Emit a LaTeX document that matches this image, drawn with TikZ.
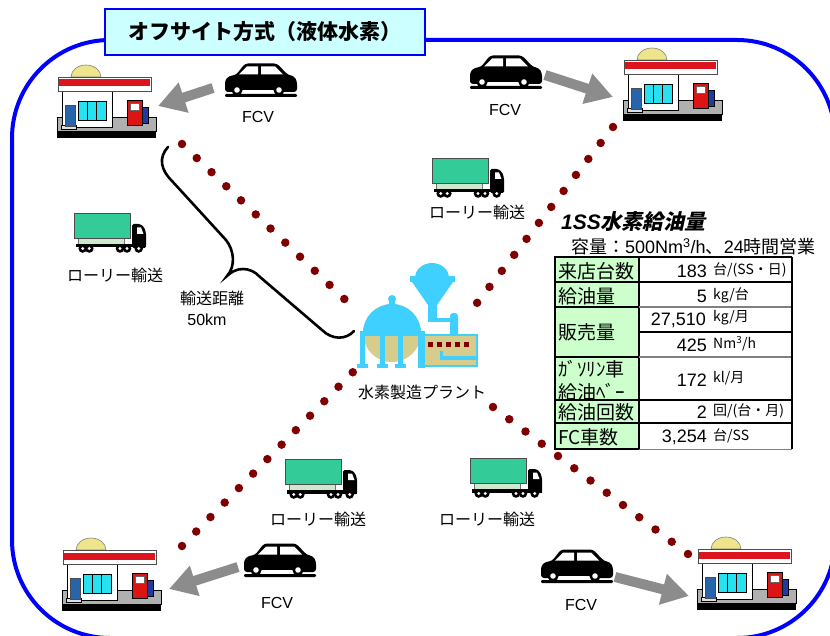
\documentclass[tikz,border=0pt]{standalone}
\usepackage{fontspec}
\setmainfont{Liberation Sans}
\newfontfamily\jp{Noto Sans CJK JP}
\newfontfamily\jpsl{Noto Sans CJK JP}[FakeSlant=0.22]
\usetikzlibrary{arrows.meta}

\definecolor{frameblue}{RGB}{0,0,255}
\definecolor{titlefill}{RGB}{204,255,255}
\definecolor{dotred}{RGB}{128,0,0}
\definecolor{arrowgray}{RGB}{140,140,140}
\definecolor{cargo}{RGB}{51,204,153}
\definecolor{chassis}{RGB}{205,232,205}
\definecolor{plantblue}{RGB}{64,208,255}
\definecolor{khaki}{RGB}{214,204,140}
\definecolor{domeyellow}{RGB}{238,228,140}
\definecolor{roofred}{RGB}{220,20,30}
\definecolor{doorblue}{RGB}{40,100,170}
\definecolor{glass}{RGB}{40,225,240}
\definecolor{pumpred}{RGB}{220,20,20}
\definecolor{nozzle}{RGB}{30,60,160}
\definecolor{basegray}{RGB}{176,176,176}
\definecolor{cellgreen}{RGB}{204,255,204}

\tikzset{
  % filling station icon, local box about 100 x 75
  station/.pic={
    \fill[black] (1,66) rectangle (100,75);
    \filldraw[fill=basegray, draw=black, line width=0.8] (1,54) rectangle (100,68);
    \filldraw[fill=domeyellow, draw=gray, line width=0.6]
      (15,14) arc[start angle=180, end angle=360, x radius=15, y radius=12] -- cycle;
    \filldraw[fill=white, draw=black, line width=0.9] (6,27) rectangle (56,64);
    \filldraw[fill=gray!25, draw=black, line width=0.5] (5,62) rectangle (20,66);
    \filldraw[fill=doorblue, draw=black!70, line width=0.5] (9.5,42) rectangle (19,63);
    \filldraw[fill=glass, draw=black, line width=0.6] (22,38.5) rectangle (50,57);
    \draw[black, line width=0.5] (31.3,38.5) -- (31.3,57) (40.6,38.5) -- (40.6,57);
    \filldraw[fill=white, draw=black!70, line width=0.8] (2,14) rectangle (95,28);
    \fill[roofred] (3,16.5) rectangle (94,23.5);
    \filldraw[fill=nozzle, draw=black, line width=0.4] (86,44) rectangle (92,60);
    \filldraw[fill=pumpred, draw=black, line width=0.7] (71,37) rectangle (86,62);
    \filldraw[fill=white, draw=black!60, line width=0.4] (74,40) rectangle (83,47);
  },
  % passenger car silhouette, local box about 72 x 35
  car/.pic={
    \fill[black, rounded corners=1.2] (0,32) rectangle (72,35);
    \fill[black, rounded corners=3] (0,30) -- (0,18) -- (4,14) -- (11,13) -- (20,1.5)
      -- (52,1.5) -- (63,13) -- (69,14) -- (72,19) -- (72,30) -- cycle;
    \fill[white] (14,12.5) -- (22,4.5) -- (33,4.5) -- (33,12.5) -- cycle;
    \fill[white] (36,4.5) -- (50,4.5) -- (58,12.5) -- (36,12.5) -- cycle;
    \fill[white] (16,28) rectangle (50,30.5);
    \fill[black] (12,28) circle (5.6) (54,28) circle (5.6);
    \fill[white] (12,28) circle (2.8) (54,28) circle (2.8);
  },
  % tank lorry, local box about 72 x 41
  truck/.pic={
    \filldraw[fill=chassis, draw=black!55, line width=0.4] (4,25) rectangle (50,32);
    \filldraw[fill=cargo, draw=black!70, line width=0.6] (0,1) rectangle (56,26);
    \fill[black, rounded corners=1.5] (58,12) -- (66,12) -- (70,15) -- (72,21)
      -- (72,36) -- (58,36) -- cycle;
    \fill[white] (63,15.5) -- (67,15.5) -- (69.5,22) -- (63,22) -- cycle;
    \fill[black] (2,32) rectangle (72,35.5);
    \foreach \wx in {8.7,15.3,46,53,64.7}{
      \fill[black] (\wx,36.5) circle (4.3);
      \fill[white] (\wx,36.5) circle (1.6);
    }
  },
  dotline/.style={dotred, line width=8.5pt, line cap=round},
  grayarrow/.style={arrowgray, line width=10pt, -{Triangle[length=27pt,width=30pt]}},
  fcvlabel/.style={font=\fontsize{16}{18}\selectfont, inner sep=0pt},
  jplabel/.style={font=\fontsize{16}{18}\selectfont\jp, inner sep=0pt},
  celllabel/.style={font=\fontsize{19}{21}\selectfont\jp, anchor=west, inner sep=0pt},
  cellnum/.style={font=\fontsize{18}{20}\selectfont, anchor=east, inner sep=0pt},
  cellunit/.style={font=\fontsize{14}{16}\selectfont\jp, anchor=west, inner sep=0pt},
}

\begin{document}
\begin{tikzpicture}[x=1pt, y=-1pt]
\useasboundingbox (0,0) rectangle (830,636);

% outer frame
\draw[frameblue, line width=4pt, rounded corners=98pt] (12,40) rectangle (835,638);

% title
\node[draw=frameblue, fill=titlefill, line width=1.5pt, minimum width=320pt,
      minimum height=46pt, inner sep=0pt,
      font=\fontsize{21}{24}\selectfont\jp\bfseries] (title) at (265,32)
  {オフサイト方式（液体水素）};

% transport routes (dotted), station end first
\coordinate (ssNW) at (182,144);  \coordinate (plNW) at (359,313);
\coordinate (ssNE) at (613,127);  \coordinate (plNE) at (477,303);
\coordinate (ssSW) at (182,546);  \coordinate (plSW) at (353,372);
\coordinate (ssSE) at (688,554);  \coordinate (plSE) at (493,407);
\draw[dotline, dash pattern=on 0pt off 20.4pt] (ssNW) -- (plNW);
\draw[dotline, dash pattern=on 0pt off 20.2pt] (ssNE) -- (plNE);
\draw[dotline, dash pattern=on 0pt off 20.3pt] (ssSW) -- (plSW);
\draw[dotline, dash pattern=on 0pt off 20.35pt] (ssSE) -- (plSE);

% filling stations
\pic at (56,63) {station};
\pic at (622,46) {station};
\pic at (61,536) {station};
\pic at (696,535) {station};

% cars and their labels
\pic at (225,62) {car};
\pic at (470,54) {car};
\pic at (244,542) {car};
\pic at (541,548) {car};
\node[fcvlabel] (fcvNW) at (258,117) {FCV};
\node[fcvlabel] (fcvNE) at (505,110) {FCV};
\node[fcvlabel] (fcvSW) at (277,603) {FCV};
\node[fcvlabel] (fcvSE) at (581,605) {FCV};

% cars driving to the stations
\coordinate (carNW) at (213,88);  \coordinate (pumpNW) at (158,106);
\coordinate (carNE) at (545,75);  \coordinate (pumpNE) at (613,97);
\coordinate (carSW) at (238,567); \coordinate (pumpSW) at (169,589);
\coordinate (carSE) at (615,577); \coordinate (pumpSE) at (689,596);
\draw[grayarrow] (carNW) -- (pumpNW);
\draw[grayarrow] (carNE) -- (pumpNE);
\draw[grayarrow] (carSW) -- (pumpSW);
\draw[grayarrow] (carSE) -- (pumpSE);

% lorries
\pic at (432,157) {truck};
\pic at (74,212) {truck};
\pic at (285,458) {truck};
\pic at (470,457) {truck};
\node[jplabel] (lorryN)  at (477,212) {ローリー輸送};
\node[jplabel] (lorryW)  at (115,275) {ローリー輸送};
\node[jplabel] (lorrySW) at (318,519) {ローリー輸送};
\node[jplabel] (lorryS)  at (487,519) {ローリー輸送};

% transport distance brace
\draw[black, line width=2.6pt, line cap=round]
  (168,147) .. controls (158,158) and (161,170) .. (172,181)
  -- (226,240) .. controls (234,250) and (236,266) .. (227,276)
  .. controls (236,267) and (250,266) .. (260,277)
  -- (322,330) .. controls (332,340) and (346,340) .. (354,331);
\node[jplabel] (dist) at (212,298) {輸送距離};
\node[fcvlabel] (distkm) at (207,320) {50km};

% hydrogen production plant
\fill[plantblue] (415,278) arc[start angle=180, end angle=360, x radius=17, y radius=15] -- cycle;
\fill[plantblue] (410,276) rectangle (455,282);
\fill[plantblue] (412,282) -- (453,282) -- (437,305) -- (428,305) -- cycle;
\fill[plantblue] (428,304) rectangle (437,322);
\fill[plantblue] (428,318) rectangle (455,322);
\fill[plantblue, rounded corners=3] (450,336) -- (450,313) -- (458,313) -- (458,336) -- cycle;
\fill[khaki] (392,333) circle (29);
\fill[plantblue] (363,333) arc[start angle=180, end angle=360, radius=29] -- cycle;
\fill[plantblue] (392,299) circle (4);
\fill[plantblue] (389,299) rectangle (395,306);
\fill[plantblue] (360,331) rectangle (424,336);
\fill[plantblue] (360,335) rectangle (365,366);
\fill[plantblue] (380,335) rectangle (385,366);
\fill[plantblue] (398,335) rectangle (403,366);
\fill[plantblue] (357,364) rectangle (368,368);
\fill[plantblue] (377,364) rectangle (388,368);
\fill[plantblue] (395,364) rectangle (406,368);
\filldraw[fill=khaki, draw=plantblue, line width=2.5pt] (423,335) rectangle (477,366);
\fill[plantblue] (418,331) rectangle (425,368);
\foreach \sx in {428,437,446,455,464}{\fill[dotred] (\sx,342) rectangle ++(5,5);}
\fill[plantblue] (440,351) rectangle (443,360);
\fill[plantblue] (440,356) rectangle (478,360);
\node[jplabel] (plant) at (422,392) {水素製造プラント};

% station data table
\node[anchor=west, inner sep=0pt, font=\fontsize{21}{24}\selectfont\bfseries\itshape]
  (tabtitle) at (561,222) {1SS{\jpsl\bfseries 水素給油量}};
\node[anchor=west, inner sep=0pt, font=\fontsize{18}{20}\selectfont\jp]
  (tabsub) at (571,247) {容量：{\rmfamily 500Nm\textsuperscript{3}/h}、{\rmfamily 24}時間営業};

\foreach \ya/\yb in {257/282, 282/307, 307/357, 357/400, 400/423, 423/449}{
  \filldraw[fill=cellgreen, draw=black, line width=1.6pt] (555,\ya) rectangle (639,\yb);
}
\draw[black, line width=1.6pt] (639,257) -- (792,257);
\draw[black, line width=1.6pt] (639,282) -- (792,282);
\draw[gray, line width=1.2pt] (639,307) -- (792,307);
\draw[black, line width=1.6pt] (639,332) -- (792,332);
\draw[gray, line width=1.2pt] (639,357) -- (792,357);
\draw[black, line width=1.6pt] (639,400) -- (792,400);
\draw[black, line width=1.6pt] (639,423) -- (792,423);
\draw[gray, line width=1pt] (639,449) -- (792,449);
\draw[black, line width=1.6pt] (792,257) -- (792,449);

\node[celllabel] (r1) at (558,271) {来店台数};
\node[celllabel] (r2) at (558,296) {給油量};
\node[celllabel] (r3) at (558,332) {販売量};
\node[celllabel] (r4a) at (558,369) {ｶﾞｿﾘﾝ車};
\node[celllabel] (r4b) at (558,392) {給油ﾍﾞｰ};
\node[celllabel] (r5) at (558,412) {給油回数};
\node[celllabel] (r6) at (558,437) {FC車数};

\node[cellnum] (v1) at (707,271) {183};
\node[cellnum] (v2) at (707,296) {5};
\node[cellnum] (v3) at (706,320) {27,510};
\node[cellnum] (v4) at (707,345) {425};
\node[cellnum] (v5) at (707,380) {172};
\node[cellnum] (v6) at (707,412) {2};
\node[cellnum] (v7) at (707,437) {3,254};

\node[cellunit] (u1) at (713,270) {台/(SS・日)};
\node[cellunit] (u2) at (713,295) {kg/台};
\node[cellunit] (u3) at (713,318) {kg/月};
\node[cellunit] (u4) at (713,344) {Nm\textsuperscript{3}/h};
\node[cellunit] (u5) at (713,378) {kl/月};
\node[cellunit] (u6) at (713,411) {回/(台・月)};
\node[cellunit] (u7) at (713,436) {台/SS};
\end{tikzpicture}
\end{document}
